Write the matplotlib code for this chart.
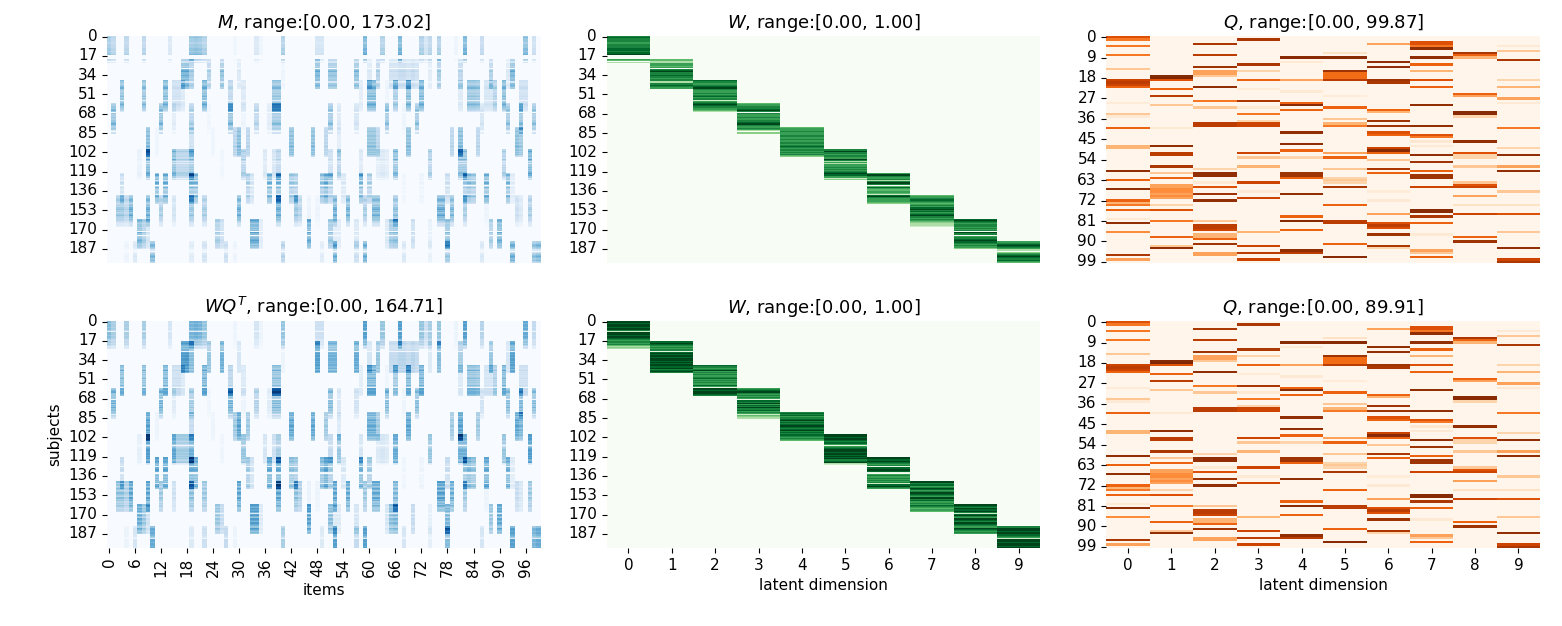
import numpy as np
import matplotlib
matplotlib.use('Agg')
from matplotlib import pyplot as plt
import seaborn as sns

n_subjects = 200
n_items = 100
n_latent = 10

titles = [
	"$M$, range:[0.00, 173.02]",
	"$W$, range:[0.00, 1.00]",
	"$Q$, range:[0.00, 99.87]",
	"$WQ^T$, range:[0.00, 164.71]",
	"$W$, range:[0.00, 1.00]",
	"$Q$, range:[0.00, 89.91]",
]
m_max = [173.02, 164.71]

# W: first row of each latent column + membership strength per row (digit/9)
w_start_top = [0, 20, 39, 59, 80, 100, 121, 140, 161, 181]
w_levels_top = [
	"787776677778878890006503",
	"553366560789778776773778766",
	"8766789976676786726789876653",
	"566778970766766778976676304",
	"566676677667677678767676754",
	"797767769736366767678986624",
	"697667379705865565289766654",
	"5667876567689786789767654332",
	"898767767670970677898767664",
	"6789876304678987865",
]

w_start_fit = [0, 18, 39, 59, 80, 100, 120, 141, 161, 181]
w_levels_fit = [
	"9989989972998998767675343",
	"8987676718989989989899897897",
	"876796767678676768619989987",
	"678976767618796879786762543",
	"78786789787898789787876765",
	"998998786167899899898978932",
	"9989876718998106767676728976",
	"997867986798769978676876565",
	"998798972897698799876987676",
	"7999899876299989989",
]

# Q: (item, value) per latent column
q0 = [(0, 72), (1, 57), (4, 57), (8, 57), (14, 28), (19, 78), (20, 82), (21, 78), (22, 65),
	(29, 8), (34, 28), (35, 10), (40, 65), (48, 35), (49, 35), (59, 94), (63, 65), (67, 94),
	(72, 65), (73, 35), (74, 57), (76, 65), (80, 10), (82, 94), (86, 50), (96, 86), (98, 42)]
q1 = [(17, 98), (18, 99.87), (19, 72), (23, 65), (26, 82), (30, 28), (40, 10), (48, 94), (51, 82),
	(52, 82), (57, 86), (60, 28), (62, 65), (65, 42), (66, 42), (67, 50), (68, 50), (69, 42),
	(70, 50), (71, 42), (74, 22), (76, 72), (81, 57), (88, 65), (92, 28), (93, 94)]
q2 = [(3, 86), (8, 82), (13, 90), (15, 42), (16, 42), (17, 28), (22, 94), (28, 57), (31, 28),
	(38, 82), (39, 82), (58, 22), (60, 94), (61, 94), (64, 10), (66, 72), (69, 90), (72, 94),
	(81, 28), (83, 82), (84, 82), (85, 78), (87, 35), (88, 35), (89, 65), (91, 90), (95, 42), (96, 42)]
q3 = [(1, 86), (12, 86), (15, 22), (19, 65), (23, 8), (28, 86), (31, 10), (34, 57), (37, 22),
	(38, 78), (39, 78), (51, 78), (53, 28), (57, 35), (64, 78), (68, 10), (71, 78), (86, 35),
	(92, 78), (95, 82), (98, 78)]
q4 = [(9, 97), (11, 10), (19, 42), (24, 10), (29, 65), (30, 97), (32, 65), (42, 94), (47, 94),
	(50, 65), (53, 22), (60, 90), (61, 90), (62, 65), (69, 94), (79, 65), (81, 97), (85, 65),
	(94, 94), (95, 82)]
q5 = [(7, 15), (9, 97), (15, 90), (16, 62), (17, 62), (18, 62), (19, 82), (26, 8),
	(31, 65), (36, 28), (38, 35), (39, 57), (51, 42), (53, 65), (58, 28), (62, 22), (63, 28),
	(64, 22), (66, 86), (74, 65), (81, 82), (82, 82), (91, 65), (97, 97)]
q6 = [(3, 42), (11, 94), (13, 94), (19, 90), (20, 86), (32, 65), (33, 35), (37, 90), (39, 90),
	(42, 72), (43, 65), (49, 78), (50, 97), (51, 65), (54, 28), (58, 86), (60, 65), (68, 8),
	(72, 10), (78, 42), (82, 72), (83, 82), (84, 72), (87, 90), (92, 86), (93, 22)]
q7 = [(2, 72), (3, 72), (4, 57), (5, 94), (9, 94), (12, 65), (15, 35), (19, 72), (22, 65),
	(30, 94), (39, 94), (43, 72), (44, 57), (46, 12), (48, 10), (52, 94), (55, 90), (59, 65),
	(61, 90), (62, 90), (66, 78), (76, 97), (77, 97), (79, 86), (82, 65), (87, 10), (94, 42),
	(95, 28), (97, 65)]
q8 = [(7, 86), (8, 65), (9, 35), (25, 65), (26, 42), (33, 97), (34, 97), (35, 22), (46, 94),
	(51, 72), (52, 22), (53, 22), (57, 28), (64, 28), (65, 72), (66, 78), (70, 42), (74, 15),
	(78, 78), (88, 65), (90, 90)]
q9 = [(4, 10), (6, 28), (10, 86), (19, 22), (22, 35), (27, 42), (29, 10), (40, 57), (49, 22),
	(52, 94), (57, 42), (59, 94), (68, 28), (74, 15), (78, 72), (86, 28), (93, 94), (98, 78), (99, 86)]


def build_w(starts, levels):
	w = np.zeros((n_subjects, n_latent))
	for k in range(n_latent):
		for i, ch in enumerate(levels[k]):
			r = starts[k] + i
			if r < n_subjects:
				w[r, k] = int(ch) / 9.0
	return w


def build_q(cols):
	q = np.zeros((n_items, n_latent))
	for k, col in enumerate(cols):
		for r, v in col:
			q[r, k] = v
	return q


def draw(ax, data, cmap, title, xstep, ystep, show_x, vmax=None):
	sns.heatmap(data, ax=ax, cmap=cmap, cbar=False, vmin=0, vmax=vmax,
				xticklabels=xstep if show_x else False, yticklabels=ystep)
	ax.set_title(title, fontsize=13)
	ax.tick_params(axis='both', labelsize=11)
	ax.tick_params(axis='y', rotation=0)


def main():
	W = build_w(w_start_top, w_levels_top)
	W_fit = build_w(w_start_fit, w_levels_fit)
	Q = build_q([q0, q1, q2, q3, q4, q5, q6, q7, q8, q9])
	M = W @ Q.T
	M_fit = W_fit @ Q.T

	fig, axes = plt.subplots(2, 3, figsize=(15.62, 6.26), dpi=100)
	plt.subplots_adjust(left=0.0685, right=0.986, bottom=0.1246, top=0.9425,
						wspace=0.152, hspace=0.2555)

	draw(axes[0, 0], M, 'Blues', titles[0], 6, 17, False, m_max[0])
	draw(axes[0, 1], W, 'Greens', titles[1], 1, 17, False)
	draw(axes[0, 2], Q, 'Oranges', titles[2], 1, 9, False)
	draw(axes[1, 0], M_fit, 'Blues', titles[3], 6, 17, True, m_max[1])
	draw(axes[1, 1], W_fit, 'Greens', titles[4], 1, 17, True)
	draw(axes[1, 2], Q, 'Oranges', titles[5], 1, 9, True)

	axes[1, 0].tick_params(axis='x', rotation=90)
	axes[1, 0].set_xlabel("items", fontsize=11)
	axes[1, 0].set_ylabel("subjects", fontsize=11)
	axes[1, 1].set_xlabel("latent dimension", fontsize=11)
	axes[1, 2].set_xlabel("latent dimension", fontsize=11)

	plt.savefig('out.png', dpi=100)


if __name__ == '__main__':
	main()
